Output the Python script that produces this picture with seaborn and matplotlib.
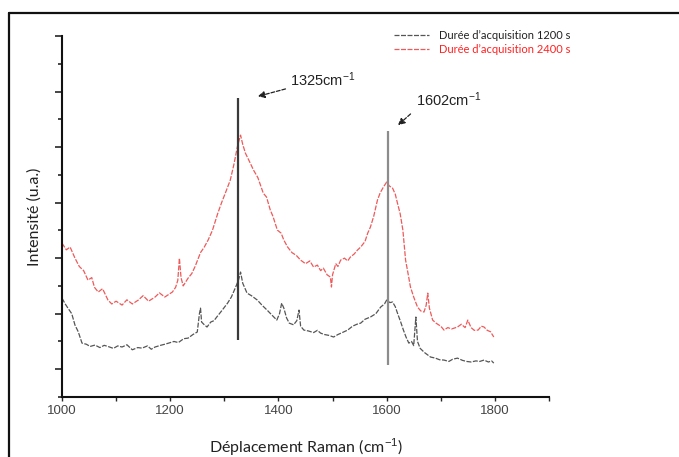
import numpy as np
import pandas as pd
import seaborn as sns
from matplotlib import pyplot as plt
from matplotlib.lines import Line2D
from matplotlib.ticker import MultipleLocator

# spectra (Raman shift in cm-1, intensity in a.u.)
shift_1200 = [1000, 1006, 1011, 1018, 1024, 1030, 1037, 1045, 1052, 1061, 1070, 1078, 1085,
              1095, 1103, 1111, 1120, 1130, 1140, 1148, 1158, 1165, 1172, 1182, 1190, 1197,
              1207, 1215, 1225, 1233, 1242, 1250, 1254, 1256, 1258, 1262, 1268, 1275, 1281,
              1286, 1295, 1306, 1313, 1321, 1326, 1330, 1334, 1342, 1350, 1361, 1370, 1379,
              1388, 1397, 1402, 1406, 1410, 1415, 1420, 1428, 1434, 1438, 1441, 1447, 1455,
              1465, 1472, 1478, 1485, 1493, 1502, 1510, 1518, 1528, 1537, 1545, 1552, 1560,
              1570, 1580, 1589, 1596, 1600, 1606, 1611, 1616, 1620, 1626, 1631, 1636, 1641,
              1646, 1650, 1654, 1657, 1662, 1670, 1681, 1690, 1698, 1706, 1715, 1722, 1731,
              1740, 1748, 1756, 1765, 1772, 1780, 1788, 1794, 1798]
int_1200 = [356, 335, 320, 300, 259, 235, 194, 190, 182, 187, 178, 186, 182,
            175, 184, 180, 188, 170, 178, 176, 184, 172, 180, 186, 190, 194,
            200, 196, 210, 212, 225, 234, 300, 320, 270, 262, 252, 270, 275,
            288, 310, 338, 360, 396, 420, 450, 410, 374, 365, 349, 330, 313,
            295, 277, 300, 338, 320, 285, 266, 260, 275, 313, 255, 241, 238,
            232, 240, 230, 225, 222, 216, 225, 232, 241, 255, 262, 266, 280,
            288, 300, 324, 335, 349, 340, 342, 325, 302, 270, 241, 215, 194,
            200, 185, 288, 200, 175, 160, 144, 140, 134, 133, 128, 136, 140,
            132, 128, 126, 130, 128, 133, 126, 130, 122]

shift_2400 = [1000, 1008, 1015, 1024, 1032, 1040, 1048, 1055, 1060, 1067, 1075, 1085, 1092,
              1100, 1111, 1120, 1130, 1141, 1150, 1160, 1172, 1180, 1190, 1204, 1210, 1214,
              1217, 1220, 1224, 1233, 1240, 1246, 1252, 1256, 1263, 1270, 1278, 1288, 1295,
              1303, 1311, 1318, 1324, 1328, 1330, 1334, 1339, 1346, 1354, 1362, 1372, 1378,
              1385, 1390, 1398, 1405, 1410, 1417, 1425, 1433, 1441, 1450, 1458, 1465, 1472,
              1478, 1483, 1490, 1496, 1498, 1500, 1506, 1510, 1515, 1522, 1528, 1533, 1540,
              1546, 1552, 1560, 1565, 1570, 1576, 1583, 1588, 1594, 1597, 1600, 1605, 1611,
              1616, 1620, 1625, 1630, 1635, 1640, 1644, 1650, 1657, 1663, 1669, 1673, 1676,
              1679, 1685, 1692, 1700, 1706, 1713, 1720, 1731, 1738, 1745, 1750, 1756, 1762,
              1769, 1775, 1780, 1786, 1792, 1798]
int_2400 = [554, 530, 540, 500, 470, 455, 421, 430, 395, 378, 390, 349, 335,
            345, 331, 350, 335, 349, 365, 345, 360, 375, 360, 378, 395, 420,
            500, 430, 400, 428, 445, 470, 500, 520, 540, 565, 600, 662, 700,
            740, 781, 840, 900, 930, 943, 910, 878, 850, 817, 790, 734, 720,
            673, 650, 601, 590, 565, 540, 520, 510, 493, 480, 490, 468, 475,
            455, 464, 440, 432, 396, 440, 480, 470, 493, 500, 490, 504, 515,
            529, 540, 560, 590, 612, 650, 709, 735, 756, 765, 774, 760, 752,
            730, 698, 660, 601, 493, 440, 396, 360, 324, 310, 306, 330, 374,
            320, 277, 265, 255, 241, 250, 245, 252, 262, 250, 277, 250, 240,
            241, 255, 252, 240, 235, 216]

peak_pos = [1325, 1602]
peak_top = [1076, 958]
peak_bottom = [205, 115]
peak_colors = ['#3a3a3a', '#8c8c8c']
peak_labels = ['1325cm$^{-1}$', '1602cm$^{-1}$']
label_xy = [(1422, 1141), (1654, 1069)]
arrow_tail = [(1418, 1112), (1648, 1026)]
arrow_head = [(1357, 1080), (1617, 972)]

legend_labels = ["Durée d\u2019acquisition 1200 s", "Durée d\u2019acquisition 2400 s"]
colors = ['#555555', '#ee5a5a']

sns.set_style('ticks')
plt.rcParams['font.family'] = ['Liberation Sans', 'DejaVu Sans']
plt.rcParams['mathtext.fontset'] = 'custom'
plt.rcParams['mathtext.rm'] = 'Liberation Sans'
plt.rcParams['mathtext.it'] = 'Liberation Sans'

fig = plt.figure(figsize=(6.79, 4.57), dpi=100)
ax = fig.add_axes([0.0913, 0.1313, 0.7172, 0.7899])

df = pd.concat([
    pd.DataFrame({'shift': shift_1200, 'intensity': int_1200, 'serie': legend_labels[0]}),
    pd.DataFrame({'shift': shift_2400, 'intensity': int_2400, 'serie': legend_labels[1]}),
])
for lab, col in zip(legend_labels, colors):
    sns.lineplot(data=df[df['serie'] == lab], x='shift', y='intensity', ax=ax,
                 color=col, lw=0.9, dashes=False, linestyle=(0, (4, 1.2)), label=lab)

ax.vlines(peak_pos, peak_bottom, peak_top, colors=peak_colors, lw=1.6)
for i in range(2):
    ax.annotate('', xy=arrow_head[i], xytext=arrow_tail[i],
                arrowprops=dict(arrowstyle='-|>', color='#222222', lw=0.9,
                                linestyle=(0, (3, 1.5)), mutation_scale=10))
    ax.text(label_xy[i][0], label_xy[i][1], peak_labels[i], fontsize=10.5,
            color='#222222', va='center', ha='left')

ax.set_xlim(1000, 1900)
ax.set_ylim(0, 1300)
ax.xaxis.set_major_locator(MultipleLocator(200))
ax.xaxis.set_minor_locator(MultipleLocator(100))
ax.set_yticks(np.arange(100, 1301, 200))
ax.set_yticks(np.arange(0, 1301, 200), minor=True)
ax.tick_params(axis='y', which='major', length=5, width=1.2, labelleft=False)
ax.tick_params(axis='y', which='minor', length=3, width=1.2)
ax.tick_params(axis='x', which='both', length=3, width=1, labelsize=9.5,
               labelcolor='#444444', pad=3)
sns.despine(ax=ax)
for s in ['left', 'bottom']:
    ax.spines[s].set_linewidth(1.5)
    ax.spines[s].set_color('#111111')

ax.set_xlabel('Déplacement Raman (cm$^{-1}$)', fontsize=11.5, family='Lato',
              color='#222222', labelpad=14)
ax.set_ylabel('Intensité (u.a.)', fontsize=11.5, family='Lato', color='#222222',
              labelpad=8)

leg = ax.legend(loc='upper left', bbox_to_anchor=(0.565, 1 - 20 / 457),
                bbox_transform=fig.transFigure, frameon=False,
                handlelength=3.2, handletextpad=0.9, labelspacing=0.25,
                prop={'family': 'Lato', 'size': 8})
for t, col in zip(leg.get_texts(), ['#222222', '#ff2020']):
    t.set_color(col)

# page frame
fig.add_artist(Line2D([9 / 679, 9 / 679], [0, 1 - 13 / 457], transform=fig.transFigure,
                      color='#111111', lw=1.6))
fig.add_artist(Line2D([9 / 679, 1], [1 - 13 / 457, 1 - 13 / 457], transform=fig.transFigure,
                      color='#111111', lw=1.6))

fig.savefig('out.png', dpi=100)
